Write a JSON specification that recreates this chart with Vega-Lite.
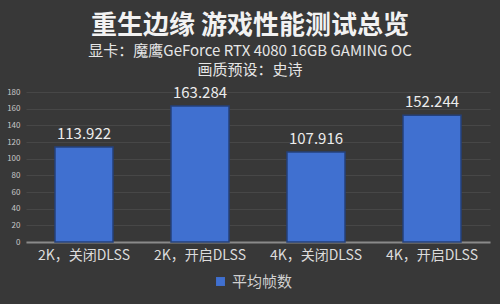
{
  "$schema": "https://vega.github.io/schema/vega-lite/v6.json",
  "width": 464,
  "height": 150,
  "autosize": {"type": "none"},
  "padding": {"left": 26, "top": 92, "right": 10, "bottom": 62},
  "background": "#383838",
  "title": {
    "text": "重生边缘 游戏性能测试总览",
    "subtitle": ["显卡：魔鹰GeForce RTX 4080 16GB GAMING OC", "画质预设：史诗"],
    "anchor": "middle",
    "dx": -8,
    "offset": 8,
    "font": "Noto Sans CJK SC",
    "fontSize": 26,
    "fontWeight": "bold",
    "color": "#f2f2f2",
    "subtitleFont": "Noto Sans CJK SC",
    "subtitleFontSize": 15,
    "subtitleColor": "#e6e6e6",
    "subtitlePadding": 5,
    "subtitleLineHeight": 19
  },
  "data": {
    "values": [
      {"setting": "2K，关闭DLSS", "fps": 113.922, "series": "平均帧数"},
      {"setting": "2K，开启DLSS", "fps": 163.284, "series": "平均帧数"},
      {"setting": "4K，关闭DLSS", "fps": 107.916, "series": "平均帧数"},
      {"setting": "4K，开启DLSS", "fps": 152.244, "series": "平均帧数"}
    ]
  },
  "encoding": {
    "x": {
      "field": "setting",
      "type": "nominal",
      "sort": null,
      "scale": {"paddingInner": 0.5, "paddingOuter": 0.25},
      "axis": {
        "title": null,
        "labelAngle": 0,
        "labelFont": "Noto Sans CJK SC",
        "labelFontSize": 14,
        "labelColor": "#dcdcdc",
        "labelPadding": 6,
        "ticks": false,
        "domainColor": "#8a8a8a",
        "domainWidth": 2
      }
    },
    "y": {
      "field": "fps",
      "type": "quantitative",
      "scale": {"domain": [0, 180]},
      "axis": {
        "title": null,
        "values": [0, 20, 40, 60, 80, 100, 120, 140, 160, 180],
        "labelFont": "Noto Sans CJK SC",
        "labelFontSize": 8,
        "labelColor": "#c8c8c8",
        "labelPadding": 6,
        "ticks": false,
        "domain": false,
        "gridColor": "#474747",
        "gridWidth": 1
      }
    }
  },
  "layer": [
    {
      "mark": {"type": "bar", "stroke": "#24407a", "strokeWidth": 1.5},
      "encoding": {
        "color": {
          "field": "series",
          "type": "nominal",
          "scale": {"range": ["#4070d0"]},
          "legend": {
            "title": null,
            "orient": "none",
            "legendX": 187,
            "legendY": 182,
            "symbolType": "square",
            "symbolSize": 80,
            "symbolStrokeWidth": 0,
            "labelFont": "Noto Sans CJK SC",
            "labelFontSize": 15,
            "labelColor": "#d0d0d0"
          }
        }
      }
    },
    {
      "mark": {
        "type": "text",
        "baseline": "alphabetic",
        "dy": -8,
        "font": "Noto Sans CJK SC",
        "fontSize": 15,
        "color": "#ececec"
      },
      "encoding": {
        "text": {"field": "fps", "type": "quantitative", "format": ".3f"}
      }
    }
  ],
  "config": {
    "view": {"stroke": null}
  }
}
